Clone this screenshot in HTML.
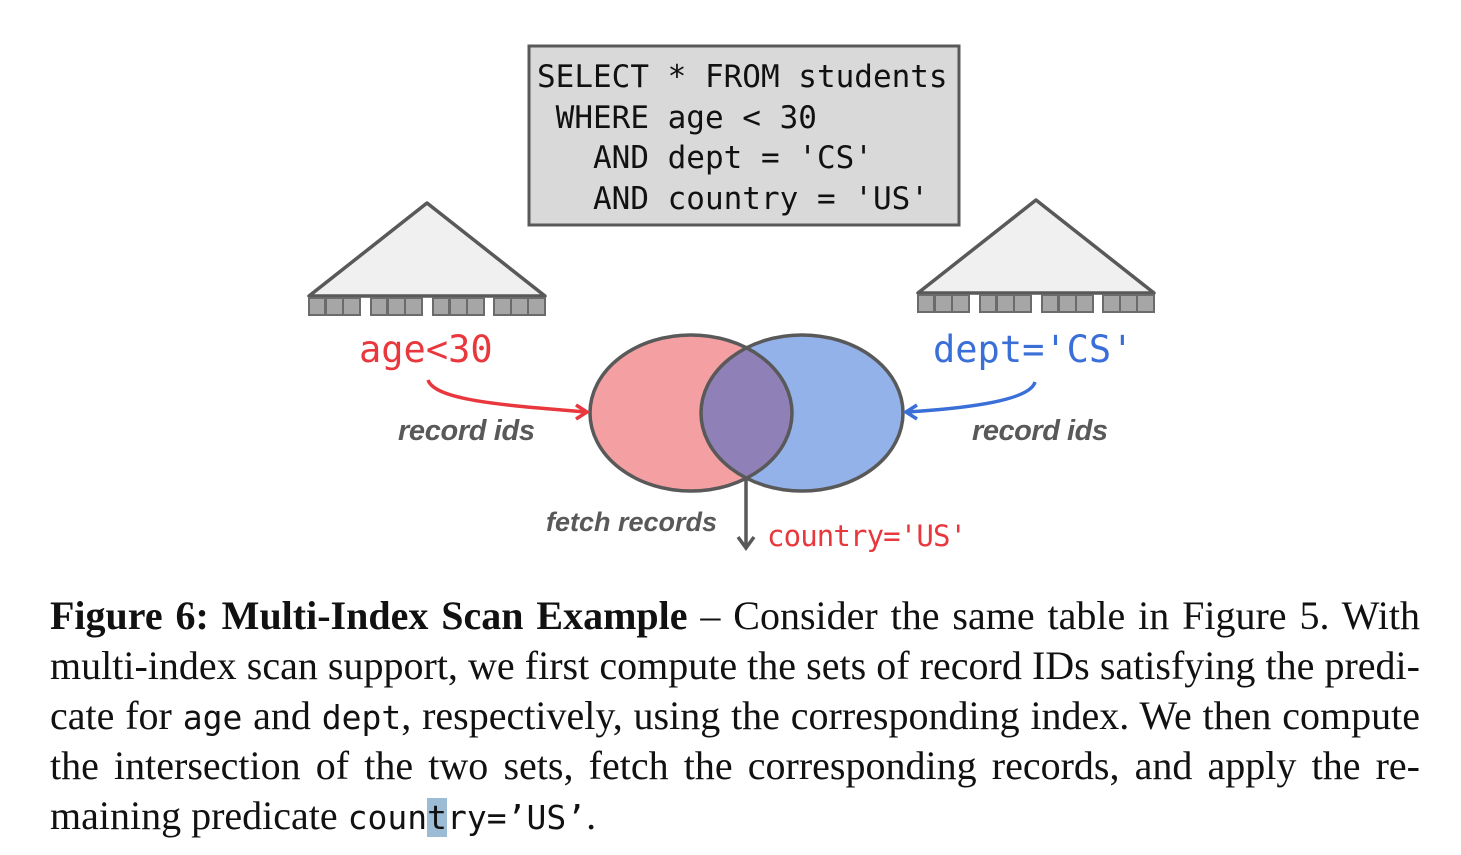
<!DOCTYPE html>
<html><head><meta charset="utf-8"><style>
body{margin:0;background:#fff;width:1461px;height:855px;overflow:hidden;position:relative}
.cap{position:absolute;left:50px;width:1370px;font-family:"Liberation Serif",serif;font-size:40px;color:#111;white-space:nowrap;text-align:justify;text-align-last:justify;line-height:40px}
.m{font-family:"DejaVu Sans Mono","Liberation Mono",monospace;font-size:33px}
</style></head><body>
<svg width="1461" height="590" style="position:absolute;left:0;top:0">
<defs>
<clipPath id="cr"><ellipse cx="691" cy="413" rx="101" ry="78"/></clipPath>
</defs>
<rect x="529" y="46" width="430" height="179" fill="#d9d9d9" stroke="#595959" stroke-width="3"/>
<g font-family="DejaVu Sans Mono,Liberation Mono,monospace" font-size="31" fill="#111" style="white-space:pre">
<text x="537" y="87" xml:space="preserve">SELECT * FROM students</text>
<text x="537" y="128" xml:space="preserve"> WHERE age &lt; 30</text>
<text x="537" y="168" xml:space="preserve">   AND dept = 'CS'</text>
<text x="537" y="209" xml:space="preserve">   AND country = 'US'</text>
</g>
<polygon points="427,203 309,296 545,296" fill="#f0f0f0" stroke="#595959" stroke-width="3.5" stroke-linejoin="round"/>
<g fill="#a6a6a6" stroke="#6b6b6b" stroke-width="2">
<rect x="309" y="298" width="16" height="17"/><rect x="326" y="298" width="17" height="17"/><rect x="343" y="298" width="17" height="17"/>
<rect x="371" y="298" width="16" height="17"/><rect x="388" y="298" width="17" height="17"/><rect x="405" y="298" width="17" height="17"/>
<rect x="433" y="298" width="16" height="17"/><rect x="450" y="298" width="17" height="17"/><rect x="467" y="298" width="17" height="17"/>
<rect x="494" y="298" width="17" height="17"/><rect x="511" y="298" width="17" height="17"/><rect x="528" y="298" width="17" height="17"/>
</g>
<polygon points="1036,200 918,293 1154,293" fill="#f0f0f0" stroke="#595959" stroke-width="3.5" stroke-linejoin="round"/>
<g fill="#a6a6a6" stroke="#6b6b6b" stroke-width="2">
<rect x="918" y="295" width="16" height="17"/><rect x="935" y="295" width="17" height="17"/><rect x="952" y="295" width="17" height="17"/>
<rect x="980" y="295" width="16" height="17"/><rect x="997" y="295" width="17" height="17"/><rect x="1014" y="295" width="17" height="17"/>
<rect x="1042" y="295" width="16" height="17"/><rect x="1059" y="295" width="17" height="17"/><rect x="1076" y="295" width="17" height="17"/>
<rect x="1103" y="295" width="17" height="17"/><rect x="1120" y="295" width="17" height="17"/><rect x="1137" y="295" width="17" height="17"/>
</g>
<text x="359" y="362" font-family="DejaVu Sans Mono,Liberation Mono,monospace" font-size="37" fill="#e8383d">age&lt;30</text>
<text x="933" y="362" font-family="DejaVu Sans Mono,Liberation Mono,monospace" font-size="37" fill="#3a6fd8">dept='CS'</text>
<ellipse cx="691" cy="413" rx="101" ry="78" fill="#f4a0a3"/>
<ellipse cx="802" cy="413" rx="101" ry="78" fill="#93b2ea"/>
<ellipse cx="802" cy="413" rx="101" ry="78" fill="#9080b8" clip-path="url(#cr)"/>
<ellipse cx="691" cy="413" rx="101" ry="78" fill="none" stroke="#595959" stroke-width="3.5"/>
<ellipse cx="802" cy="413" rx="101" ry="78" fill="none" stroke="#595959" stroke-width="3.5"/>
<path d="M428,380 C435,400 500,405 586,412" fill="none" stroke="#e8383d" stroke-width="3.5"/>
<path d="M576,405 L587,412 L576,419" fill="none" stroke="#e8383d" stroke-width="3.5"/>
<path d="M1035,382 C1030,400 970,408 907,412" fill="none" stroke="#3a6fd8" stroke-width="3.5"/>
<path d="M917,405 L906,412 L917,419" fill="none" stroke="#3a6fd8" stroke-width="3.5"/>
<line x1="746" y1="478" x2="746" y2="548" stroke="#595959" stroke-width="3.5"/>
<path d="M738,537 L746,548 L754,537" fill="none" stroke="#595959" stroke-width="3.5"/>
<g font-family="Liberation Sans,DejaVu Sans,sans-serif" font-style="italic" font-weight="bold" font-size="29" fill="#595959">
<text x="398" y="440" textLength="137" lengthAdjust="spacing">record ids</text>
<text x="972" y="440" textLength="136" lengthAdjust="spacing">record ids</text>
<text x="546" y="531" font-size="27">fetch records</text>
</g>
<text x="767" y="546" font-family="DejaVu Sans Mono,Liberation Mono,monospace" font-size="29" fill="#e8383d" textLength="200">country='US'</text>
<line x1="220" y1="599" x2="697" y2="599" stroke="#9cc0dd" stroke-width="1"/>
</svg>
<div class="cap" style="top:596px"><b>Figure 6: Multi-Index Scan Example</b> – Consider the same table in Figure 5. With</div>
<div class="cap" style="top:646px">multi-index scan support, we first compute the sets of record IDs satisfying the predi-</div>
<div class="cap" style="top:696px">cate for <span class="m">age</span> and <span class="m">dept</span>, respectively, using the corresponding index. We then compute</div>
<div class="cap" style="top:746px">the intersection of the two sets, fetch the corresponding records, and apply the re-</div>
<div class="cap" style="top:796px;text-align:left;text-align-last:left">maining predicate <span class="m">coun<span style="background:#9cbcd6">t</span>ry=’US’</span>.</div>
</body></html>
